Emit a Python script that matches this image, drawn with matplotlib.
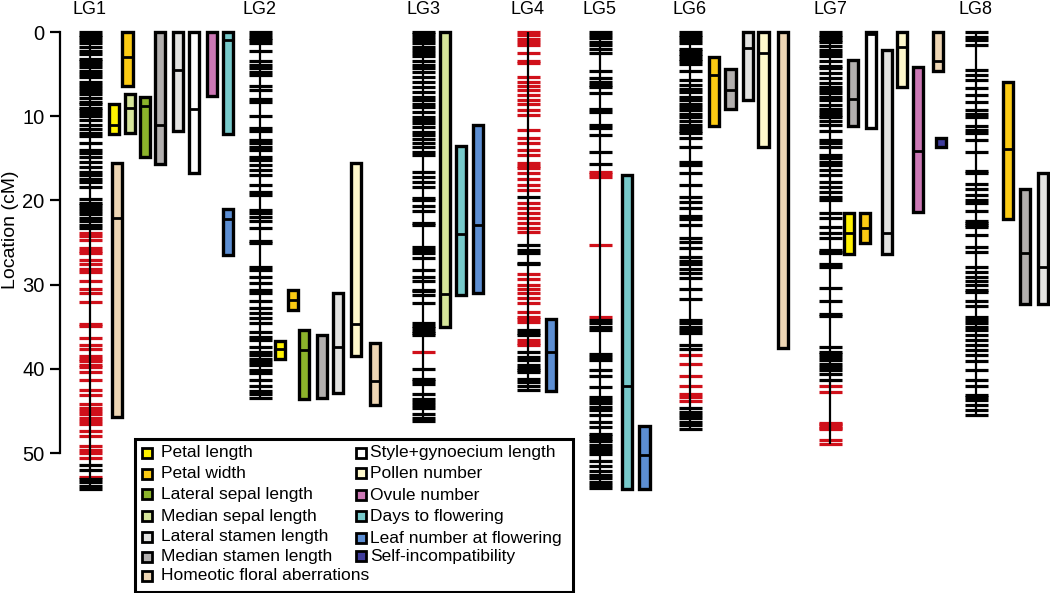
import matplotlib
matplotlib.use("Agg")
import matplotlib.pyplot as plt
from matplotlib.patches import Rectangle

plt.rcParams['font.family'] = ['Liberation Sans', 'DejaVu Sans']

W, H = 1050, 593

trait_colors = {
    'Petal length': '#FFF200',
    'Petal width': '#FCCB13',
    'Lateral sepal length': '#8CB32B',
    'Median sepal length': '#D6E59A',
    'Lateral stamen length': '#E3E3E1',
    'Median stamen length': '#B2AFAE',
    'Homeotic floral aberrations': '#EED6B4',
    'Style+gynoecium length': '#FFFFFF',
    'Pollen number': '#FFF9CC',
    'Ovule number': '#CC78B5',
    'Days to flowering': '#77CACB',
    'Leaf number at flowering': '#5C8ED3',
    'Self-incompatibility': '#3F3C9C',
}
legend_col1 = ['Petal length', 'Petal width', 'Lateral sepal length', 'Median sepal length',
               'Lateral stamen length', 'Median stamen length', 'Homeotic floral aberrations']
legend_col2 = ['Style+gynoecium length', 'Pollen number', 'Ovule number', 'Days to flowering',
               'Leaf number at flowering', 'Self-incompatibility']

lg_names = ['LG1', 'LG2', 'LG3', 'LG4', 'LG5', 'LG6', 'LG7', 'LG8']

# marker positions (cM)
lg1_black = [0, 0.3, 0.6, 1.0, 1.3, 1.8, 2.2, 2.6, 3.2, 3.5, 3.8, 4.1, 4.6, 5.0, 5.3, 5.9, 6.3, 6.6, 7.0,
             7.4, 7.8, 8.3, 8.6, 9.0, 9.3, 9.6, 10.0, 10.4, 11.1, 11.5, 12.0, 12.4, 13.2, 14.0, 14.4, 14.8,
             15.4, 16.0, 16.6, 17.0, 17.4, 17.8, 18.4, 19.8, 20.3, 20.6, 20.9, 21.3, 21.6, 22.1, 22.5,
             22.9, 23.3, 51.4, 52.0, 53.1, 53.5, 53.9, 54.3]
lg1_red = [23.9, 24.2, 24.7, 25.7, 26.0, 26.3, 27.1, 27.5, 28.1, 28.5, 29.6, 30.5, 31.0, 32.1, 34.7, 34.9,
           36.4, 37.2, 37.6, 38.5, 38.8, 39.1, 39.5, 39.8, 40.4, 41.3, 42.5, 43.1, 44.2, 44.6, 45.0, 45.4,
           45.8, 46.2, 46.6, 47.4, 48.0, 49.2, 49.6, 50.0, 50.6, 52.8]
lg2_black = [0, 0.3, 0.7, 1.0, 1.3, 2.3, 3.5, 3.9, 4.3, 4.7, 5.1, 6.4, 6.9, 7.9, 8.3, 10.0, 11.4, 11.8,
             12.8, 13.2, 13.6, 14.0, 14.8, 15.2, 15.8, 16.4, 17.0, 18.2, 19.0, 19.4, 21.1, 21.5, 22.0,
             22.5, 23.3, 24.8, 25.0, 27.9, 28.3, 29.1, 29.8, 30.6, 31.0, 32.0, 32.8, 33.4, 34.0, 34.6,
             35.6, 36.2, 36.6, 37.4, 38.0, 38.4, 38.8, 39.2, 39.5, 40.1, 40.5, 41.3, 42.1, 42.6, 43.0, 43.5]
lg2_red = []
lg3_black = [0, 0.2, 0.55, 0.95, 1.35, 1.75, 2.15, 2.55, 2.9, 3.5, 3.9, 4.3, 4.7, 5.3, 5.9, 6.5, 7.1, 7.7,
             8.1, 8.5, 8.9, 9.5, 10.1, 10.45, 10.85, 11.25, 11.85, 12.25, 12.65, 13.2, 13.6, 14.2, 14.6,
             16.6, 17.2, 17.8, 18.4, 19.7, 19.9, 20.7, 21.3, 22.7, 22.9, 25.5, 25.9, 26.3, 26.9, 28.3,
             29.1, 29.6, 30.6, 30.8, 31.2, 32.2, 34.6, 34.9, 35.2, 35.5, 35.8, 36.0, 40.0, 41.2, 41.5,
             41.8, 43.0, 43.6, 44.0, 44.3, 44.6, 45.4, 45.8, 46.2]
lg3_red = [38.0]
lg4_black = [19.6, 25.3, 25.9, 26.3, 27.4, 27.6, 35.4, 35.7, 36.0, 38.0, 38.6, 39.0, 39.6, 39.9, 40.2,
             40.4, 41.2, 41.6, 42.0, 42.5]
lg4_red = [0, 0.4, 0.8, 1.2, 1.5, 2.5, 3.5, 3.7, 5.3, 5.9, 6.4, 6.9, 7.5, 8.1, 8.5, 9.3, 9.9, 11.6, 12.6,
           13.2, 14.0, 14.6, 15.6, 15.9, 16.2, 16.8, 17.4, 18.2, 18.8, 20.3, 20.9, 21.5, 22.1, 22.7,
           23.3, 23.7, 28.7, 29.3, 30.0, 30.5, 31.0, 31.6, 32.2, 33.2, 33.8, 34.1, 34.4, 36.6, 36.9, 37.2]
lg5_black = [0, 0.35, 0.75, 1.15, 1.55, 2.05, 2.5, 4.6, 5.5, 5.9, 6.3, 6.5, 7.3, 9.1, 9.5, 11.0, 11.4,
             12.2, 14.2, 15.7, 34.2, 34.6, 35.0, 35.4, 38.2, 38.6, 39.0, 40.1, 40.9, 42.2, 43.3, 43.7,
             44.1, 44.5, 44.9, 45.5, 46.3, 46.9, 47.7, 48.0, 48.3, 48.6, 49.0, 49.4, 49.8, 50.1, 50.9,
             51.5, 52.1, 52.6, 53.0, 53.4, 53.8, 54.2]
lg5_red = [16.6, 16.9, 17.2, 25.3, 33.8]
lg6_black = [0, 0.3, 0.6, 0.9, 1.3, 2.0, 2.3, 2.6, 2.9, 3.2, 3.5, 3.8, 4.6, 5.7, 6.3, 6.8, 7.1, 7.7, 8.1,
             8.5, 8.9, 9.3, 9.7, 10.1, 10.6, 11.0, 11.4, 11.8, 12.0, 12.6, 13.6, 15.4, 15.8, 16.8, 18.2,
             19.6, 20.2, 20.9, 21.8, 22.2, 22.9, 24.5, 24.9, 25.6, 26.7, 27.2, 27.6, 28.1, 28.6, 29.2,
             30.5, 31.7, 34.2, 34.6, 35.0, 35.4, 35.8, 37.2, 37.7, 44.7, 45.1, 45.5, 45.9, 46.3, 46.7, 47.1]
lg6_red = [38.4, 39.4, 40.8, 42.1, 43.0, 43.4, 43.8]
lg7_black = [0, 0.3, 0.6, 0.9, 1.2, 1.7, 2.1, 2.5, 2.9, 3.5, 4.0, 4.3, 4.9, 5.5, 6.1, 6.5, 6.9, 7.3, 7.7,
             8.1, 8.7, 9.1, 9.5, 9.9, 10.1, 10.6, 11.0, 11.8, 12.8, 13.2, 13.6, 14.6, 15.0, 15.4, 15.8,
             16.4, 17.0, 17.8, 18.4, 19.0, 19.6, 20.0, 21.5, 22.1, 23.1, 23.9, 24.5, 25.9, 26.1, 26.3,
             27.5, 27.9, 30.4, 32.0, 33.5, 33.7, 37.4, 38.0, 38.3, 38.6, 39.0, 39.4, 39.8, 40.2, 40.6, 41.3]
lg7_red = [42.1, 42.8, 46.4, 46.6, 46.8, 47.0, 47.2, 48.4, 48.9]
lg8_black = [0, 0.6, 1.0, 1.5, 4.5, 5.1, 5.7, 6.6, 7.5, 8.3, 9.3, 9.7, 10.1, 11.2, 11.6, 12.0, 12.8, 14.2,
             16.5, 16.7, 18.0, 18.6, 19.4, 20.0, 20.3, 21.3, 22.5, 22.7, 22.9, 23.1, 24.1, 25.5, 26.1,
             27.9, 28.5, 29.1, 29.6, 30.0, 30.6, 30.9, 31.9, 32.6, 33.8, 34.2, 34.6, 35.0, 35.4, 36.0,
             36.6, 37.2, 37.8, 38.4, 39.1, 40.1, 41.3, 42.1, 43.1, 43.4, 43.7, 44.3, 44.9, 45.5]
lg8_red = []

black_markers = [lg1_black, lg2_black, lg3_black, lg4_black, lg5_black, lg6_black, lg7_black, lg8_black]
red_markers = [lg1_red, lg2_red, lg3_red, lg4_red, lg5_red, lg6_red, lg7_red, lg8_red]

# QTL intervals: linkage group index, trait, start, end, peak (cM)
qtl_lg = [0, 0, 0, 0, 0, 0, 0, 0, 0, 0, 0,
          1, 1, 1, 1, 1, 1, 1,
          2, 2, 2,
          3,
          4, 4,
          5, 5, 5, 5, 5,
          6, 6, 6, 6, 6, 6, 6, 6, 6,
          7, 7, 7]
qtl_trait = ['Petal length', 'Homeotic floral aberrations', 'Petal width', 'Median sepal length',
             'Lateral sepal length', 'Median stamen length', 'Lateral stamen length',
             'Style+gynoecium length', 'Ovule number', 'Days to flowering', 'Leaf number at flowering',
             'Petal length', 'Petal width', 'Lateral sepal length', 'Median stamen length',
             'Lateral stamen length', 'Pollen number', 'Homeotic floral aberrations',
             'Median sepal length', 'Days to flowering', 'Leaf number at flowering',
             'Leaf number at flowering',
             'Days to flowering', 'Leaf number at flowering',
             'Petal width', 'Median stamen length', 'Lateral stamen length', 'Pollen number',
             'Homeotic floral aberrations',
             'Petal length', 'Median stamen length', 'Petal width', 'Style+gynoecium length',
             'Lateral stamen length', 'Pollen number', 'Ovule number', 'Homeotic floral aberrations',
             'Self-incompatibility',
             'Petal width', 'Median stamen length', 'Lateral stamen length']
qtl_start = [8.5, 15.6, 0, 7.4, 7.7, 0, 0, 0, 0, 0, 21.0,
             36.7, 30.6, 35.4, 36.0, 31.0, 15.6, 36.9,
             0, 13.5, 11.0,
             34.1,
             17.0, 46.8,
             3.0, 4.4, 0, 0, 0,
             21.5, 3.3, 21.5, 0, 2.1, 0, 4.1, 0, 12.6,
             5.9, 18.6, 16.8]
qtl_end = [12.1, 45.7, 6.4, 12.0, 14.9, 15.7, 11.7, 16.8, 7.6, 12.1, 26.5,
           38.8, 33.0, 43.6, 43.5, 42.9, 38.5, 44.3,
           35.0, 31.2, 31.0,
           42.6,
           54.3, 54.3,
           11.2, 9.2, 8.1, 13.6, 37.5,
           26.4, 11.2, 25.0, 11.4, 26.4, 6.5, 21.4, 4.6, 13.6,
           22.2, 32.3, 32.3]
qtl_peak = [11.0, 22.1, 3.0, 9.0, 8.8, 11.0, 4.5, 9.1, None, 0.9, 22.2,
            37.6, 31.8, 37.8, None, 37.4, 34.7, 41.4,
            31.1, 24.0, 22.9,
            38.0,
            42.1, 50.2,
            5.1, 6.9, 1.9, 2.5, None,
            23.9, 8.0, 23.3, 0.2, 23.9, 1.8, 14.1, 3.5, None,
            13.9, 26.2, 27.9]

# layout (x in figure pixels)
lg_xpos = [90, 260, 423, 528, 600, 690, 830, 976]
qtl_xpos = [114, 117, 127.5, 130, 145, 160, 178, 194, 212, 228, 228,
            280, 293, 304, 322, 338, 356, 375,
            445, 461, 478,
            551,
            627, 644.5,
            714, 730.5, 748, 763.5, 783,
            849, 853, 865, 871, 887, 902, 918, 938, 941,
            1008, 1025, 1043]


def px_to_cm(y):
    return (y - 32) / 8.42


fig = plt.figure(figsize=(W / 100, H / 100), dpi=100)
ax = fig.add_axes([60 / W, 0, 1 - 60 / W, 1])
ax.set_xlim(60, W)
ax.set_ylim(px_to_cm(H), px_to_cm(0))

for s in ['top', 'right', 'bottom']:
    ax.spines[s].set_visible(False)
ax.spines['left'].set_bounds(0, 50)
ax.spines['left'].set_linewidth(1.6)
ax.set_xticks([])
ax.set_yticks([0, 10, 20, 30, 40, 50])
ax.tick_params(axis='y', length=7, width=1.6, pad=4, labelsize=14.5)
ax.set_ylabel('Location (cM)', fontsize=14)
ax.yaxis.set_label_coords(-41 / 990, 1 - 230 / H)

half = 11.5
for i, name in enumerate(lg_names):
    x = lg_xpos[i]
    allm = black_markers[i] + red_markers[i]
    ax.hlines(red_markers[i], x - half, x + half, color='#D0101A', lw=2.3, zorder=2)
    ax.hlines(black_markers[i], x - half, x + half, color='black', lw=2.3, zorder=2)
    ax.vlines(x, min(allm), max(allm), color='black', lw=1.6, zorder=3)
    ax.text(x, px_to_cm(10), name, ha='center', va='center', fontsize=13)

bw = 10.5
for lg, tr, s, e, p, x in zip(qtl_lg, qtl_trait, qtl_start, qtl_end, qtl_peak, qtl_xpos):
    ax.add_patch(Rectangle((x - bw / 2, s), bw, e - s, facecolor=trait_colors[tr],
                           edgecolor='black', lw=2.4, zorder=4, joinstyle='miter'))
    if p is not None:
        ax.hlines(p, x - bw / 2, x + bw / 2, color='black', lw=2.0, zorder=5)

# legend box
fig.patches.append(Rectangle((135 / W, 1 - 592 / H), (573 - 135) / W, (592 - 439) / H,
                             transform=fig.transFigure, facecolor='white', edgecolor='black',
                             lw=2.2, zorder=6))
col1_y = [453, 474, 494, 516, 537, 557, 576]
col2_y = [453, 473, 495, 516, 538, 556]
sq = 10
for labels, ys, xs, xt in [(legend_col1, col1_y, 147, 161), (legend_col2, col2_y, 361, 370)]:
    for lab, y in zip(labels, ys):
        fig.patches.append(Rectangle(((xs - sq / 2) / W, 1 - (y + sq / 2) / H), sq / W, sq / H,
                                     transform=fig.transFigure, facecolor=trait_colors[lab],
                                     edgecolor='black', lw=2.0, zorder=7))
        fig.text(xt / W, 1 - y / H, lab, ha='left', va='center', fontsize=12.5, zorder=8)

fig.savefig('out.png', dpi=100)
